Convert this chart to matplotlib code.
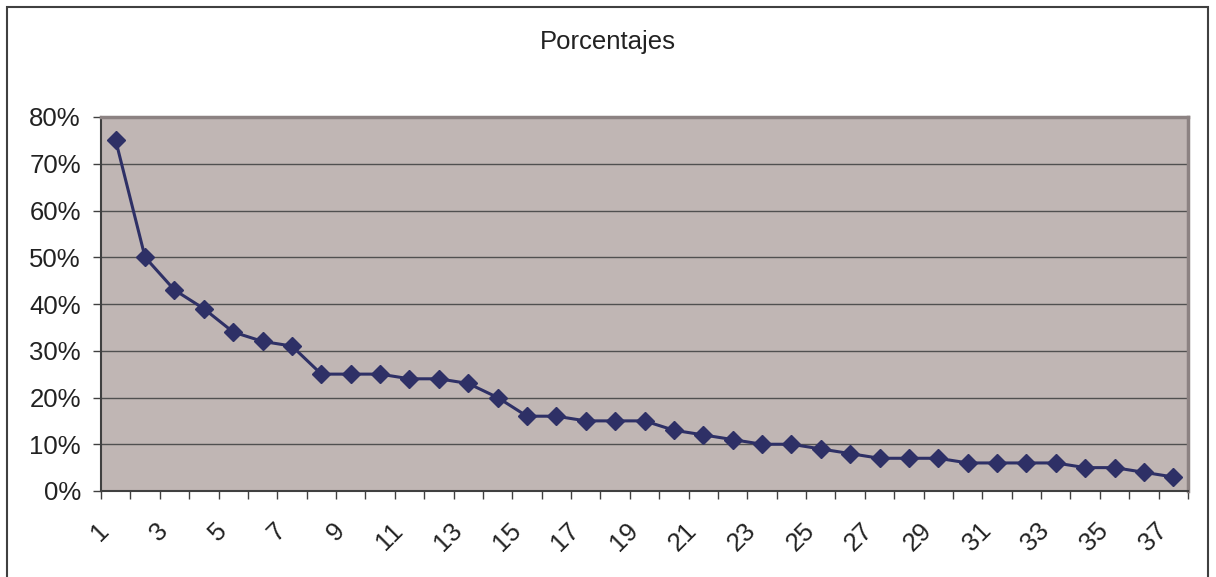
import matplotlib
matplotlib.use("Agg")
import matplotlib.pyplot as plt
from matplotlib.ticker import PercentFormatter, FixedLocator
from matplotlib.patches import Rectangle
import matplotlib.transforms as mtransforms

categories = list(range(1, 38))
values = [75, 50, 43, 39, 34, 32, 31, 25, 25, 25, 24, 24, 23, 20, 16, 16, 15, 15, 15,
          13, 12, 11, 10, 10, 9, 8, 7, 7, 7, 6, 6, 6, 6, 5, 5, 4, 3]
title = "Porcentajes"

plt.rcParams['font.family'] = ['Liberation Sans', 'DejaVu Sans']

W, H = 1216, 577
fig = plt.figure(figsize=(W / 100, H / 100), dpi=100)
fig.patch.set_facecolor('white')

# outer border
fig.patches.append(Rectangle((7 / W, -0.01), (1208 - 7) / W, 1 - 7 / H + 0.01,
                             transform=fig.transFigure, fill=False,
                             edgecolor='#404040', linewidth=1.5))

left, right, top, bottom = 101, 1188, 117, 491
ax = fig.add_axes([left / W, 1 - bottom / H, (right - left) / W, (bottom - top) / H])
ax.set_facecolor('#c0b6b4')

n = len(categories)
xs = [i + 0.5 for i in range(n)]
yv = [v / 100 for v in values]
ax.plot(xs, yv, color='#2e3066', linewidth=2.2, marker='D', markersize=9,
        markerfacecolor='#2e3066', markeredgecolor='#2e3066', zorder=3)

ax.set_xlim(0, n)
ax.set_ylim(0, 0.8)
ax.set_yticks([i / 10 for i in range(9)])
ax.yaxis.set_major_formatter(PercentFormatter(1.0, decimals=0))
ax.grid(axis='y', color='#505050', linewidth=1)
ax.set_axisbelow(True)

# x ticks
ax.xaxis.set_minor_locator(FixedLocator(list(range(n + 1))))
lab_pos = [xs[i] for i in range(0, n, 2)]
ax.set_xticks(lab_pos)
ax.set_xticklabels([str(categories[i]) for i in range(0, n, 2)])
ax.tick_params(axis='x', which='major', length=0, pad=26, labelsize=18.5,
               labelcolor='#222222')
ax.tick_params(axis='x', which='minor', length=6, color='#404040', width=1, direction='out')
ax.tick_params(axis='y', which='major', length=6, color='#404040', width=1,
               labelsize=18.5, labelcolor='#222222', pad=8.5)
offset = mtransforms.ScaledTranslation(-10 / 100, 0, fig.dpi_scale_trans)
for lbl in ax.get_xticklabels():
    lbl.set_rotation(45)
    lbl.set_rotation_mode('anchor')
    lbl.set_ha('right')
    lbl.set_va('center')
    lbl.set_transform(lbl.get_transform() + offset)

for s in ['left', 'bottom']:
    ax.spines[s].set_color('#404040')
    ax.spines[s].set_linewidth(1.5)
for s in ['top', 'right']:
    ax.spines[s].set_color('#8c8282')
    ax.spines[s].set_linewidth(2.5)

fig.text(608 / W, 1 - 42 / H, title, ha='center', va='center', fontsize=18.5,
         color='#222222')

fig.savefig('out.png', dpi=100, facecolor='white')
